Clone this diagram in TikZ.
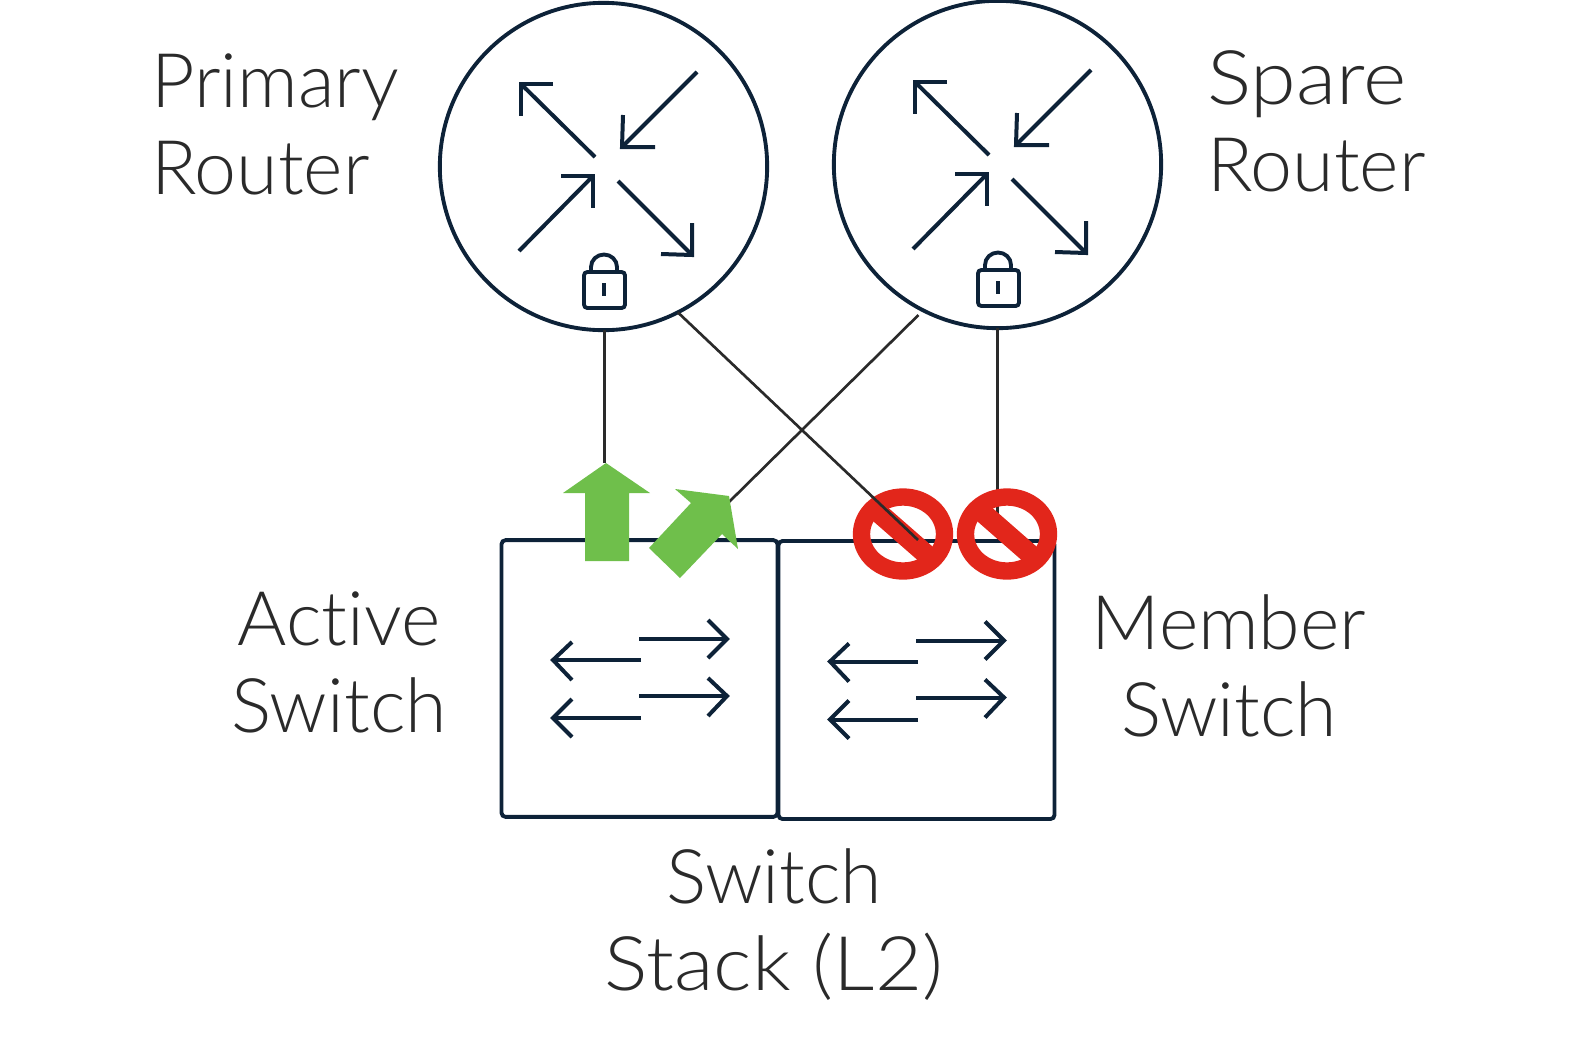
\documentclass[tikz,border=0pt]{standalone}
\usepackage{fontspec}
\setmainfont{Lato}[UprightFont=* Light,Ligatures=NoCommon]
\definecolor{navy}{HTML}{0D2238}
\definecolor{inkc}{HTML}{2A2A2A}
\definecolor{greenc}{HTML}{6FBF4B}
\definecolor{redc}{HTML}{E2261B}
\tikzset{
  routerc/.style={circle,draw=navy,line width=2.9pt,minimum size=245.5pt,inner sep=0pt,outer sep=0pt},
  switchb/.style={rectangle,draw=navy,line width=2.9pt,rounded corners=3pt,inner sep=0pt,outer sep=0pt},
  icon/.style={draw=navy,line width=3pt,line cap=butt,line join=miter},
  iconr/.style={draw=navy,line width=2.9pt,rounded corners=2.5pt},
  link/.style={draw=inkc,line width=2pt},
  lbl/.style={text=inkc,align=center,inner sep=0pt,font=\fontsize{56.5}{65.25}\selectfont},
  lbll/.style={lbl,align=left},
  greenarrow/.style={fill=greenc,draw=none},
  noentry/.style={draw=redc,line width=13pt},
  nobar/.style={draw=redc,line width=15pt}
}
\newfontfamily\widerfont{Lato}[UprightFont=* Light,Ligatures=NoCommon,FakeStretch=1.08]
\newfontfamily\widestfont{Lato}[UprightFont=* Light,Ligatures=NoCommon,FakeStretch=1.1]
\newcommand{\routericon}{%
  \draw[icon] (595,157) -- (521,84);
  \draw[icon] (553,84) -- (521,84) -- (521,116);
  \draw[icon] (697,72) -- (622,147);
  \draw[icon] (623,115) -- (622,147) -- (655,147);
  \draw[icon] (519,251) -- (593,176);
  \draw[icon] (561,176) -- (593,176) -- (593,208);
  \draw[icon] (618,181) -- (692,255);
  \draw[icon] (692,223) -- (692,255) -- (661,254);
  \draw[iconr] (584,272) rectangle (625,308);
  \draw[icon,line width=2.9pt] (591,272) -- (591,267) arc[start angle=180,end angle=360,x radius=13,y radius=12.5] -- (617,272);
  \draw[icon,line width=3pt] (604,283) -- (604,296);
}
\newcommand{\switchicon}{%
  \draw[icon] (639,639) -- (727,639);
  \draw[icon] (708,620) -- (727,639) -- (708,658);
  \draw[icon] (641,660) -- (553,660);
  \draw[icon] (572,642) -- (553,660) -- (572,680);
  \draw[icon] (639,696) -- (727,696);
  \draw[icon] (708,678) -- (727,696) -- (708,716);
  \draw[icon] (641,718) -- (553,718);
  \draw[icon] (572,699) -- (553,718) -- (572,737);
}
\newcommand{\noentrysign}[2]{%
  \begin{scope}
    \clip (#1,#2) ellipse[x radius=48,y radius=44];
    \draw[nobar] ({#1-48},{#2-42}) -- ({#1+48},{#2+42});
  \end{scope}
  \draw[noentry] (#1,#2) ellipse[x radius=41.5,y radius=37];
}
\begin{document}
\begin{tikzpicture}[x=0.75pt,y=-0.75pt]
\useasboundingbox (0,0) rectangle (1569,1050);
% routers
\node[routerc] (r1) at (603.5,166.5) {};
\node[routerc] (r2) at (997.5,164.5) {};
\routericon
\begin{scope}[shift={(394,-2)}]\routericon\end{scope}
% switches
\node[switchb,minimum width=207pt,minimum height=207.5pt] (s1) at (639.5,678.5) {};
\node[switchb,minimum width=207pt,minimum height=208.5pt] (s2) at (916.5,680) {};
\switchicon
\begin{scope}[shift={(277,1.5)}]\switchicon\end{scope}
% link end points
\coordinate (upTip) at (606,463);
\coordinate (diagEnd) at (729,502);
\coordinate (redA) at (918,540);
\coordinate (redB) at (997.5,518);
% links under the signs
\draw[link] ([xshift=0.5pt]r1.south) -- ([xshift=0.5pt]r1.south |- upTip);
\draw[link,shorten <=5pt] (r2.-117) -- (diagEnd);
\draw[link] (r2.south) -- (redB);
% green arrows
\path[greenarrow] (upTip) -- (650,493) -- (629,493) -- (629,561) -- (585,561) -- (585,493) -- (563,493) -- cycle;
\path[greenarrow] (675,489) -- (729,496) -- (738,549) -- (722,534) -- (680,578) -- (649,548) -- (691,503) -- cycle;
% red signs
\noentrysign{903}{534}
\noentrysign{1007}{534}
\draw[link] (r1.-63.6) -- (redA);
% labels
\node[lbll,anchor=west] (t1) at (151,124) {Primary\\Router};
\node[lbll,anchor=west] (t2) at (1207,121) {{\widestfont Spare}\\Router};
\node[lbl] (t3) at (339,662) {Active\\Switch};
\node[lbl] (t4) at (1229,666) {Member\\Switch};
\node[lbl] (t5) at (774,925) {Switch\\{\widerfont Stack (L2)}};
\end{tikzpicture}
\end{document}
